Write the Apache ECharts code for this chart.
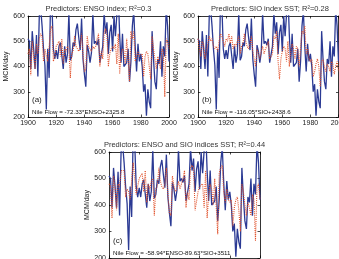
<!DOCTYPE html>
<html><head><meta charset="utf-8">
<script src="https://cdn.jsdelivr.net/npm/echarts@6/dist/echarts.min.js"></script>
<style>html,body{margin:0;padding:0;background:#fff}#c{width:339px;height:259px}</style>
</head><body><div id="c"></div>
<script>
const startYear = 1900;
const xTicks = [1900, 1920, 1940, 1960, 1980, 2000];
const yTicks = [200, 300, 400, 500, 600];

// Observed Nile flow (MCM/day), 1900-2000
const observed = [
 510,500,390,540,470,390,525,360,600,630,
 560,470,405,230,470,355,660,640,470,430,
 465,430,480,495,490,390,480,415,450,610,
 425,440,495,480,545,570,515,465,590,430,
 370,320,485,460,415,455,610,490,500,485,
 510,415,420,480,615,530,575,450,535,565,
 460,600,520,520,690,525,415,530,400,395,
 415,470,340,420,560,620,480,380,490,420,
 450,400,300,330,205,310,260,235,540,430,
 340,310,430,410,500,360,480,440,630,560,
 420];

// Predicted: ENSO index
const predEnso = [
 450,470,365,500,440,390,490,450,510,530,
 520,420,470,440,420,480,550,560,420,440,
 480,490,500,440,510,410,470,460,480,470,
 355,450,460,520,480,470,460,480,530,450,
 380,390,520,480,470,460,480,470,480,510,
 530,400,460,430,530,550,520,400,450,470,
 480,470,490,410,530,370,450,470,460,410,
 510,510,340,540,510,540,420,420,460,440,
 440,450,360,440,460,450,400,350,520,470,
 430,390,440,420,390,470,460,280,510,500,
 470];

// Predicted: SIO index SST
const predSio = [
 510,470,440,500,490,430,460,490,520,500,
 510,480,470,480,460,500,530,520,500,480,
 510,500,530,490,520,470,490,480,500,520,
 450,480,490,530,500,480,470,490,520,460,
 430,400,470,450,430,460,480,450,470,480,
 500,430,440,450,520,510,540,420,350,430,
 460,480,470,420,500,400,460,490,470,430,
 480,470,400,470,540,530,560,450,470,430,
 420,430,360,380,410,430,400,320,420,430,
 400,380,410,400,380,420,410,370,400,420,
 380];

// Predicted: ENSO and SIO indices
const predBoth = [
 480,470,350,510,470,380,480,470,530,530,
 530,430,460,450,420,490,560,560,440,440,
 500,500,520,450,530,410,480,460,490,500,
 360,460,470,540,490,470,460,480,540,440,
 370,360,510,470,450,460,490,460,480,500,
 530,390,450,420,540,550,540,380,380,450,
 470,470,480,390,530,350,440,480,460,400,
 500,500,290,520,540,550,450,410,460,420,
 410,420,320,390,420,430,380,300,480,450,
 400,360,410,390,360,440,420,265,470,480,
 420];

const titles = [
 'Predictors: ENSO index; R²=0.3',
 'Predictors: SIO index SST; R²=0.28',
 'Predictors: ENSO and SIO indices SST; R²=0.44'
];
const panelTags = ['(a)', '(b)', '(c)'];
const equations = [
 'Nile Flow = -72.33*ENSO+2325.8',
 'Nile Flow = -116.05*SIO+2438.6',
 'Nile Flow = -58.94*ENSO-89.63*SIO+3511'
];
const yName = 'MCM/day';

const years = observed.map((_, i) => startYear + i);
const pairs = arr => arr.map((v, i) => [years[i], v]);
const predictions = [predEnso, predSio, predBoth];

const FONT = 'Liberation Sans';
const grids = [
 {left: 28, top: 16, width: 141, height: 101},
 {left: 198, top: 16, width: 140.5, height: 101},
 {left: 109, top: 152, width: 151, height: 106}
];
const tickCommon = {inside: true, length: 2.5, lineStyle: {color: '#000', width: 0.7}};
const plain = v => String(v);

const xAxis = [], yAxis = [], series = [], graphic = [];
grids.forEach((g, k) => {
  xAxis.push({
    type: 'value', gridIndex: k, min: xTicks[0], max: xTicks[xTicks.length - 1], interval: 20,
    axisLine: {show: true, onZero: false, lineStyle: {color: '#000', width: 0.8}},
    axisTick: tickCommon, splitLine: {show: false},
    axisLabel: {fontSize: 7, color: '#222', margin: 3, fontFamily: FONT, formatter: plain, hideOverlap: false}
  });
  xAxis.push({
    type: 'value', gridIndex: k, position: 'top', min: xTicks[0], max: xTicks[xTicks.length - 1], interval: 20,
    axisLine: {show: true, onZero: false, lineStyle: {color: '#000', width: 0.8}},
    axisTick: tickCommon, splitLine: {show: false}, axisLabel: {show: false}
  });
  yAxis.push({
    type: 'value', gridIndex: k, min: yTicks[0], max: yTicks[yTicks.length - 1], interval: 100,
    axisLine: {show: true, onZero: false, lineStyle: {color: '#000', width: 0.8}},
    axisTick: tickCommon, splitLine: {show: false},
    axisLabel: {fontSize: 7, color: '#222', margin: 3, fontFamily: FONT, formatter: plain},
    name: yName, nameLocation: 'middle', nameGap: 15,
    nameTextStyle: {fontSize: 7, color: '#222', fontFamily: FONT}
  });
  yAxis.push({
    type: 'value', gridIndex: k, position: 'right', min: yTicks[0], max: yTicks[yTicks.length - 1], interval: 100,
    axisLine: {show: true, onZero: false, lineStyle: {color: '#000', width: 0.8}},
    axisTick: tickCommon, splitLine: {show: false}, axisLabel: {show: false}
  });
  series.push({
    type: 'line', xAxisIndex: 2 * k, yAxisIndex: 2 * k, data: pairs(observed),
    showSymbol: false, symbol: 'none', clip: true,
    lineStyle: {color: '#2b3a94', width: 1.3}, z: 2
  });
  series.push({
    type: 'line', xAxisIndex: 2 * k, yAxisIndex: 2 * k, data: pairs(predictions[k]),
    showSymbol: false, symbol: 'none', clip: true,
    lineStyle: {color: '#e0502a', width: 1.1, type: [1, 1.1]}, z: 3
  });
  const cx = g.left + (k === 1 ? 72 : g.width / 2);
  graphic.push({type: 'text', x: cx, y: g.top - 7,
    style: {text: titles[k], fontSize: 7.5, fontFamily: FONT, fill: '#333', align: 'center', verticalAlign: 'middle'}});
  graphic.push({type: 'text', x: g.left + 4, y: g.top + g.height - 17,
    style: {text: panelTags[k], fontSize: 8, fontFamily: FONT, fill: '#222', align: 'left', verticalAlign: 'middle'}});
  graphic.push({type: 'text', x: g.left + 4, y: g.top + g.height - 5,
    style: {text: equations[k], fontSize: 6.2, fontFamily: FONT, fill: '#111', align: 'left', verticalAlign: 'middle'}});
});

const chart = echarts.init(document.getElementById('c'), null, {renderer: 'canvas'});
chart.setOption({
  animation: false,
  backgroundColor: '#fff',
  grid: grids.map(g => Object.assign({containLabel: false, outerBoundsMode: 'none', show: false}, g)),
  xAxis, yAxis, series, graphic
});
</script></body></html>
